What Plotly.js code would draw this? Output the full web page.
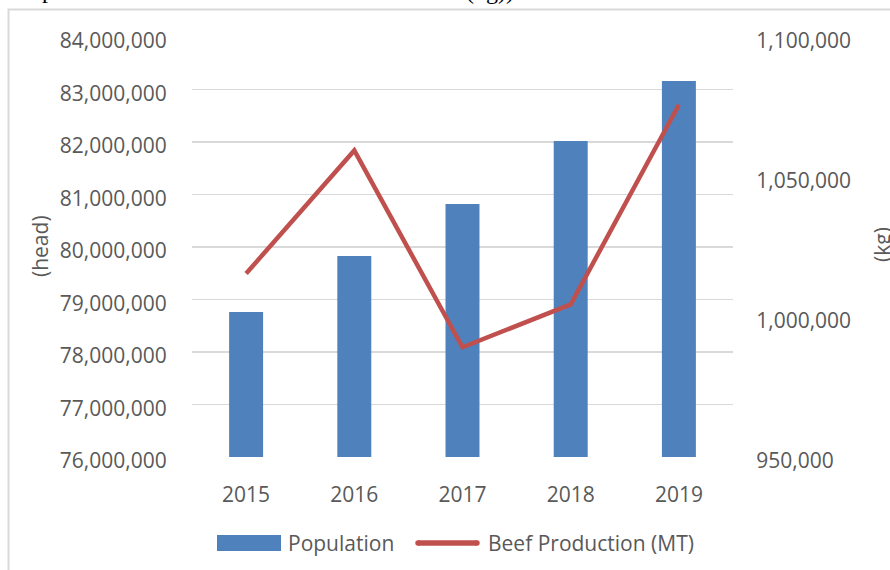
<!DOCTYPE html>
<html>
<head>
<meta charset="utf-8">
<script src="https://cdn.plot.ly/plotly-3.0.1.min.js"></script>
<style>
  html, body { margin: 0; padding: 0; background: #ffffff; }
  #chart { width: 890px; height: 570px; }
</style>
</head>
<body>
<div id="chart"></div>
<script>
// ---- Data ----
const years = ['2015', '2016', '2017', '2018', '2019'];
const population = [78760000, 79830000, 80820000, 82020000, 83160000];
const beefProduction = [1015500, 1059500, 989200, 1004500, 1075800];
const seriesNames = ['Population', 'Beef Production (MT)'];
const leftTitle = '(head)';
const rightTitle = '(kg)';
const captionFragments = ['p', '(kg))'];

// ---- Layout helpers (pixel -> paper) ----
const W = 890, H = 570;
const L = 192, R = 733, T = 37, B = 457;
const pw = R - L, ph = B - T;
const px = x => (x - L) / pw;
const py = y => (B - y) / ph;

const textColor = '#595959';
const fontFam = '"Open Sans", "Noto Sans", sans-serif';
const barColor = '#4F81BD';
const lineColor = '#C0504D';

const traces = [
  {
    type: 'bar',
    name: seriesNames[0],
    x: years,
    y: population,
    marker: { color: barColor },
    yaxis: 'y',
    hoverinfo: 'skip'
  },
  {
    type: 'scatter',
    mode: 'lines',
    name: seriesNames[1],
    x: years,
    y: beefProduction,
    yaxis: 'y2',
    line: { color: lineColor, width: 4.5 },
    hoverinfo: 'skip'
  }
];

const layout = {
  width: W,
  height: H,
  margin: { l: L, r: W - R, t: T, b: H - B, pad: 0 },
  paper_bgcolor: '#ffffff',
  plot_bgcolor: '#ffffff',
  showlegend: false,
  bargap: 0.686,
  font: { family: fontFam, size: 21, color: textColor },
  xaxis: {
    type: 'category',
    showgrid: false,
    zeroline: false,
    showline: false,
    ticks: 'outside',
    ticklen: 19,
    tickcolor: 'rgba(0,0,0,0)',
    tickfont: { family: fontFam, size: 21, color: textColor }
  },
  yaxis: {
    range: [76000000, 84000000],
    dtick: 1000000,
    tick0: 76000000,
    tickformat: ',d',
    showgrid: true,
    gridcolor: '#D9D9D9',
    gridwidth: 1.5,
    zeroline: false,
    showline: false,
    ticks: 'outside',
    ticklen: 20,
    tickcolor: 'rgba(0,0,0,0)',
    ticklabelshift: 4,
    tickfont: { family: fontFam, size: 21, color: textColor }
  },
  yaxis2: {
    overlaying: 'y',
    side: 'right',
    range: [950000, 1100000],
    dtick: 50000,
    tick0: 950000,
    tickformat: ',d',
    showgrid: false,
    zeroline: false,
    showline: false,
    ticks: 'outside',
    ticklen: 18,
    tickcolor: 'rgba(0,0,0,0)',
    ticklabelshift: 4,
    tickfont: { family: fontFam, size: 21, color: textColor }
  },
  shapes: [
    // chart frame
    {
      type: 'rect', xref: 'paper', yref: 'paper',
      x0: px(8.5), x1: px(905), y0: py(590), y1: py(9.5),
      line: { color: '#D9D9D9', width: 2 }, fillcolor: 'rgba(0,0,0,0)', layer: 'below'
    },
    // legend: bar swatch
    {
      type: 'rect', xref: 'paper', yref: 'paper',
      x0: px(217), x1: px(281), y0: py(551), y1: py(535),
      line: { width: 0 }, fillcolor: barColor
    },
    // legend: line swatch
    {
      type: 'line', xref: 'paper', yref: 'paper',
      x0: px(418), x1: px(477), y0: py(543), y1: py(543),
      line: { color: lineColor, width: 5.5 }
    },
    {
      type: 'circle', xref: 'paper', yref: 'paper',
      x0: px(415.3), x1: px(420.7), y0: py(545.7), y1: py(540.3),
      line: { width: 0 }, fillcolor: lineColor
    },
    {
      type: 'circle', xref: 'paper', yref: 'paper',
      x0: px(474.3), x1: px(479.7), y0: py(545.7), y1: py(540.3),
      line: { width: 0 }, fillcolor: lineColor
    }
  ],
  annotations: [
    {
      text: seriesNames[0], xref: 'paper', yref: 'paper',
      x: px(286), y: py(543), xanchor: 'left', yanchor: 'middle',
      showarrow: false, font: { family: fontFam, size: 21, color: textColor }
    },
    {
      text: seriesNames[1], xref: 'paper', yref: 'paper',
      x: px(486), y: py(543), xanchor: 'left', yanchor: 'middle',
      showarrow: false, font: { family: fontFam, size: 21, color: textColor }
    },
    {
      text: leftTitle, xref: 'paper', yref: 'paper',
      x: px(40), y: py(246), xanchor: 'center', yanchor: 'middle',
      textangle: -90, showarrow: false,
      font: { family: fontFam, size: 21, color: textColor }
    },
    {
      text: rightTitle, xref: 'paper', yref: 'paper',
      x: px(882), y: py(245), xanchor: 'center', yanchor: 'middle',
      textangle: -90, showarrow: false,
      font: { family: fontFam, size: 21, color: textColor }
    },
    {
      text: captionFragments[0], xref: 'paper', yref: 'paper',
      x: px(40), y: py(-10), xanchor: 'left', yanchor: 'middle',
      showarrow: false,
      font: { family: '"Liberation Serif", serif', size: 24, color: '#000000' }
    },
    {
      text: captionFragments[1], xref: 'paper', yref: 'paper',
      x: px(464), y: py(-9), xanchor: 'left', yanchor: 'middle',
      showarrow: false,
      font: { family: '"Liberation Serif", serif', size: 24, color: '#000000' }
    }
  ]
};

Plotly.newPlot('chart', traces, layout, { staticPlot: true, displayModeBar: false });
</script>
</body>
</html>
